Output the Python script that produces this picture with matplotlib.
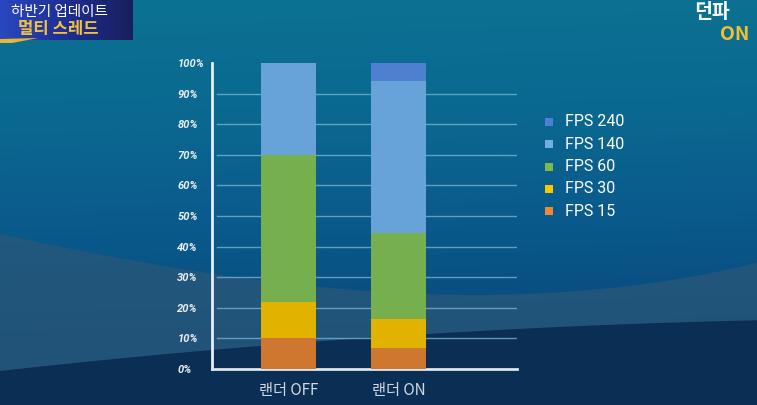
import numpy as np
import matplotlib
matplotlib.use("Agg")
import matplotlib.pyplot as plt
from matplotlib.patches import Rectangle, Polygon
from matplotlib.colors import LinearSegmentedColormap

plt.rcParams['font.family'] = ['Noto Sans CJK KR', 'DejaVu Sans']

# ---------------- data ----------------
categories = ["랜더 OFF", "랜더 ON"]
series_names = ["FPS 15", "FPS 30", "FPS 60", "FPS 140", "FPS 240"]
fps15 = [10, 7]
fps30 = [12, 9.5]
fps60 = [48, 28]
fps140 = [30, 49.5]
fps240 = [0, 6]
yticks = [0, 10, 20, 30, 40, 50, 60, 70, 80, 90, 100]
ytick_labels = [f"{v}%" for v in yticks]

bar_colors = ["#d0772f", "#e2b200", "#76b04e", "#67a2d9", "#4f7fcf"]
legend_colors = ["#ee8a33", "#f6c800", "#7cba4c", "#72aee2", "#4e7fd2"]

W, H = 757, 405
fig = plt.figure(figsize=(W / 100, H / 100), dpi=100)

# ---------------- background ----------------
bg = fig.add_axes([0, 0, 1, 1], zorder=0)
bg.set_xlim(0, W)
bg.set_ylim(H, 0)
bg.axis("off")
yy = np.linspace(0, 1, 200)[:, None]
xx = np.linspace(0, 1, 300)[None, :]
cmap = LinearSegmentedColormap.from_list(
    "bgc", [(0, "#0c7292"), (0.3, "#0a6890"), (0.55, "#0a5a8c"),
            (0.75, "#094e80"), (1, "#083e70")])
grad = np.clip(yy * 0.97 + xx * 0.04, 0, 1)
bg.imshow(cmap(grad), extent=[0, W, H, 0], aspect="auto", zorder=0)

xs = np.linspace(0, W, 300)
up_x = [0, 200, 400, 520, 620, 757]
up_y = [235, 268, 298, 296, 281, 265]
lo_x = [0, 200, 400, 560, 757]
lo_y = [373, 347, 335, 332, 318]
upper = np.polyval(np.polyfit(up_x, up_y, 3), xs)
lower = np.polyval(np.polyfit(lo_x, lo_y, 2), xs)
bg.fill_between(xs, upper, H, color="#2c5878", alpha=0.7, lw=0, zorder=1)
bg.fill_between(xs, lower, H, color="#0b2e55", alpha=1.0, lw=0, zorder=2)

# title box
tb = np.linspace(0, 1, 100)[None, :]
tcmap = LinearSegmentedColormap.from_list("tb", ["#2a48c0", "#1e2e92", "#181f5e"])
bg.imshow(tcmap(tb), extent=[0, 133, 40, 0], aspect="auto", zorder=3)
bg.add_patch(Polygon([[0, 39], [38, 38], [12, 43], [0, 43]], closed=True,
                     color="#e8b830", zorder=4, lw=0))
bg.text(59, 12, "하반기 업데이트", color="white", fontsize=10.5, ha="center",
        va="center", zorder=5)
bg.text(58, 29, "멀티 스레드", color="#f2c23c", fontsize=12, fontweight="black",
        ha="center", va="center", zorder=5)
# logo
bg.text(712, 12, "던파", color="white", fontsize=14, fontweight="bold",
        style="italic", ha="center", va="center", zorder=5)
bg.text(735, 35, "ON", color="#f0c030", fontsize=14, fontweight="bold",
        ha="center", va="center", zorder=5)

# ---------------- chart ----------------
ax_left, ax_right = 212, 517
y0_px, y100_px = 369, 63
ax = fig.add_axes([ax_left / W, (H - y0_px) / H, (ax_right - ax_left) / W,
                   (y0_px - y100_px) / H], zorder=2)
ax.patch.set_alpha(0)
x = np.arange(len(categories))
series = [fps15, fps30, fps60, fps140, fps240]
bottom = np.zeros(len(categories))
for vals, c in zip(series, bar_colors):
    ax.bar(x, vals, bottom=bottom, width=0.5, color=c, zorder=3, lw=0)
    bottom = bottom + np.array(vals)

ax.set_xlim(-0.695, 2.077)
ax.set_ylim(0, 100)
ax.set_yticks(yticks)
ax.set_yticklabels(ytick_labels, fontfamily="Roboto", fontweight="bold",
                   style="italic", fontsize=8, color="#e8eef4", ha="left")
ax.tick_params(axis="y", length=0, pad=25)
ax.set_xticks(x)
ax.set_xticklabels(categories, fontsize=11, color="#d0d8e2")
ax.tick_params(axis="x", length=0, pad=9)
for v in yticks[1:-1]:
    ax.axhline(v, xmin=0.016, xmax=1, color="#7ab8d8", lw=1, alpha=0.75, zorder=1)
for s in ["top", "right"]:
    ax.spines[s].set_visible(False)
ax.spines["left"].set_color("#e8eef4")
ax.spines["left"].set_linewidth(2)
ax.spines["left"].set_bounds(0, 100)
ax.spines["bottom"].set_color("#dde4ea")
ax.spines["bottom"].set_linewidth(2)

# legend (top = FPS 240)
for i, (name, lc) in enumerate(zip(series_names[::-1], legend_colors[::-1])):
    yc = 122 + 22.3 * i
    bg.add_patch(Rectangle((545, yc - 4), 8, 8, color=lc, lw=0, zorder=5))
    bg.text(565, yc, name, color="white", fontsize=11.5, fontfamily="Roboto",
            ha="left", va="center", zorder=5)

fig.savefig("out.png", dpi=100)
